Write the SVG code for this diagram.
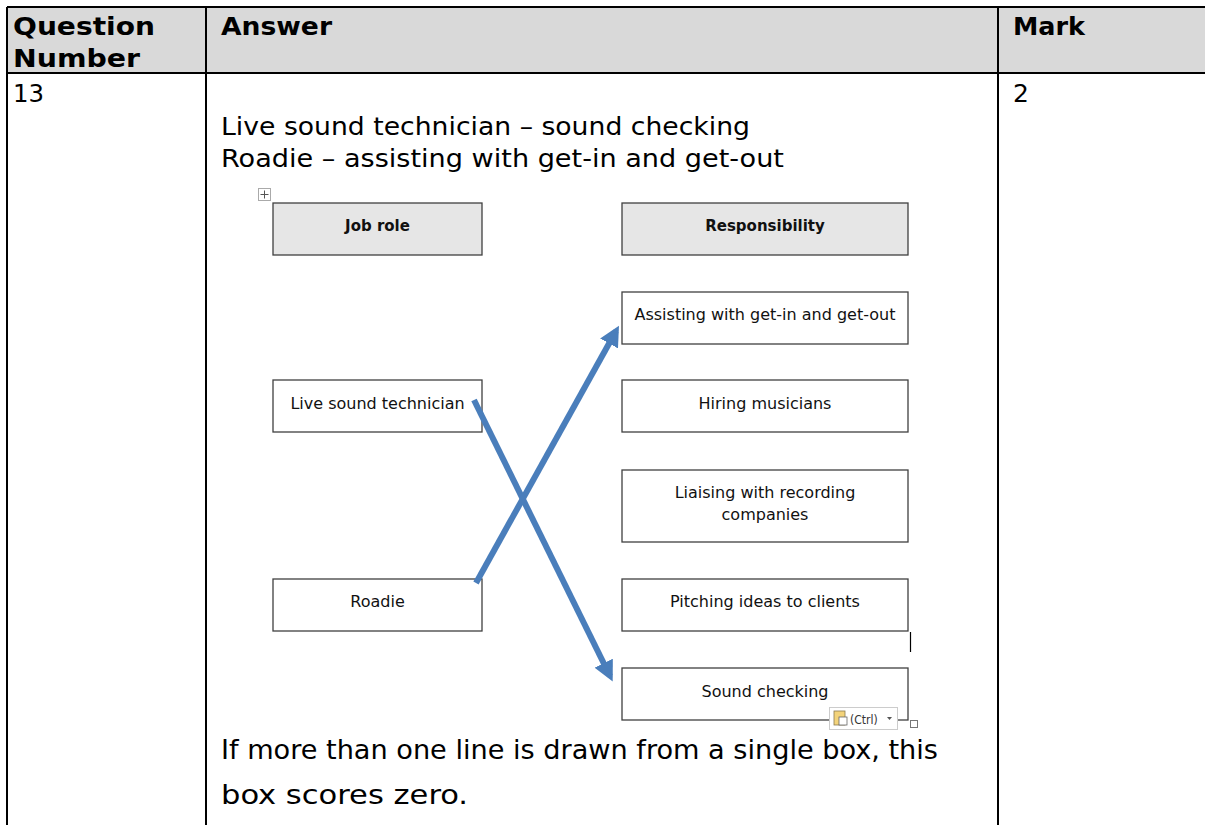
<svg xmlns="http://www.w3.org/2000/svg" width="1205" height="825" viewBox="0 0 1205 825">
<style>
.hd{font-family:"DejaVu Sans",Verdana,sans-serif;font-weight:bold;font-size:25px;fill:#000}
.tx{font-family:"DejaVu Sans",Verdana,sans-serif;font-size:25px;fill:#000}
.nt{font-family:"DejaVu Sans Condensed","DejaVu Sans",sans-serif;font-size:27px;fill:#000}
.bx{fill:#fff;stroke:#404040;stroke-width:1.3}
.bh{fill:#e6e6e6;stroke:#404040;stroke-width:1.3}
.bt{font-family:"DejaVu Sans",Tahoma,sans-serif;font-size:16px;fill:#111;text-anchor:middle}
.bb{font-family:"DejaVu Sans",Tahoma,sans-serif;font-size:15px;font-weight:bold;fill:#111;text-anchor:middle}
.tl{stroke:#000;stroke-width:2;fill:none}
.ar{stroke:#4a7ebb;stroke-width:6;fill:none}
</style>
<defs>
<marker id="ah" viewBox="0 0 10 10" refX="7" refY="5" markerWidth="3.4" markerHeight="3.4" orient="auto" markerUnits="strokeWidth">
<path d="M0,0 L10,5 L0,10 z" fill="#4a7ebb"/>
</marker>
</defs>
<rect x="0" y="0" width="1205" height="825" fill="#fff"/>
<g id="table">
<rect x="7" y="7" width="1200" height="66" fill="#d9d9d9"/>
<path class="tl" d="M7,7 H1205 M7,73 H1205 M7,7 V825 M206,7 V825 M998,7 V825"/>
<text class="hd" x="13" y="35" textLength="142" lengthAdjust="spacingAndGlyphs">Question</text>
<text class="hd" x="13" y="67" textLength="127" lengthAdjust="spacingAndGlyphs">Number</text>
<text class="hd" x="221" y="35" textLength="111" lengthAdjust="spacingAndGlyphs">Answer</text>
<text class="hd" x="1013" y="35" textLength="72" lengthAdjust="spacingAndGlyphs">Mark</text>
<text class="tx" x="13" y="102" textLength="31" lengthAdjust="spacingAndGlyphs">13</text>
<text class="tx" x="1013" y="102">2</text>
<text class="tx" x="221" y="135" textLength="529" lengthAdjust="spacingAndGlyphs">Live sound technician – sound checking</text>
<text class="tx" x="221" y="167" textLength="563" lengthAdjust="spacingAndGlyphs">Roadie – assisting with get-in and get-out</text>
<text class="nt" x="221" y="759" textLength="717" lengthAdjust="spacingAndGlyphs">If more than one line is drawn from a single box, this</text>
<text class="nt" x="221" y="804" textLength="247" lengthAdjust="spacingAndGlyphs">box scores zero.</text>
</g>
<g id="move-handle">
<rect x="258.5" y="188.5" width="12" height="12" fill="#fff" stroke="#aaa" stroke-width="1"/>
<path d="M264.5,190.5 V198.5 M260.5,194.5 H268.5" stroke="#555" stroke-width="1"/>
</g>
<g id="job-role">
<rect class="bh" x="273" y="203" width="209" height="52"/>
<text class="bb" x="377.5" y="231">Job role</text>
</g>
<g id="responsibility">
<rect class="bh" x="622" y="203" width="286" height="52"/>
<text class="bb" x="765" y="231">Responsibility</text>
</g>
<g id="assisting">
<rect class="bx" x="622" y="292" width="286" height="52"/>
<text class="bt" x="765" y="320">Assisting with get-in and get-out</text>
</g>
<g id="live-sound-technician">
<rect class="bx" x="273" y="380" width="209" height="52"/>
<text class="bt" x="377.5" y="409">Live sound technician</text>
</g>
<g id="hiring">
<rect class="bx" x="622" y="380" width="286" height="52"/>
<text class="bt" x="765" y="409">Hiring musicians</text>
</g>
<g id="liaising">
<rect class="bx" x="622" y="470" width="286" height="72"/>
<text class="bt" x="765" y="498">Liaising with recording</text>
<text class="bt" x="765" y="520">companies</text>
</g>
<g id="roadie">
<rect class="bx" x="273" y="579" width="209" height="52"/>
<text class="bt" x="377.5" y="607">Roadie</text>
</g>
<g id="pitching">
<rect class="bx" x="622" y="579" width="286" height="52"/>
<text class="bt" x="765" y="607">Pitching ideas to clients</text>
</g>
<g id="sound-checking">
<rect class="bx" x="622" y="668" width="286" height="52"/>
<text class="bt" x="765" y="697">Sound checking</text>
</g>
<g id="artifacts">
<path d="M910.5,632 V652" stroke="#000" stroke-width="1.2"/>
<rect x="829.5" y="707.5" width="68" height="22" fill="#fff" stroke="#ccc" stroke-width="1"/>
<rect x="834" y="711" width="11" height="14" fill="#f3d37a" stroke="#8a7a50" stroke-width="0.8"/>
<rect x="839" y="717" width="8" height="8" fill="#fff" stroke="#666" stroke-width="0.8"/>
<text x="850" y="724" font-family="DejaVu Sans Condensed,sans-serif" font-size="12" fill="#333">(Ctrl)</text>
<path d="M887,717 h5 l-2.5,3 z" fill="#555"/>
<rect x="910.5" y="720.5" width="7" height="7" fill="#fff" stroke="#777" stroke-width="1"/>
</g>
<g id="connectors">
<line class="ar" x1="474" y1="400" x2="610" y2="676" marker-end="url(#ah)"/>
<line class="ar" x1="476" y1="583" x2="616" y2="331" marker-end="url(#ah)"/>
</g>
</svg>
